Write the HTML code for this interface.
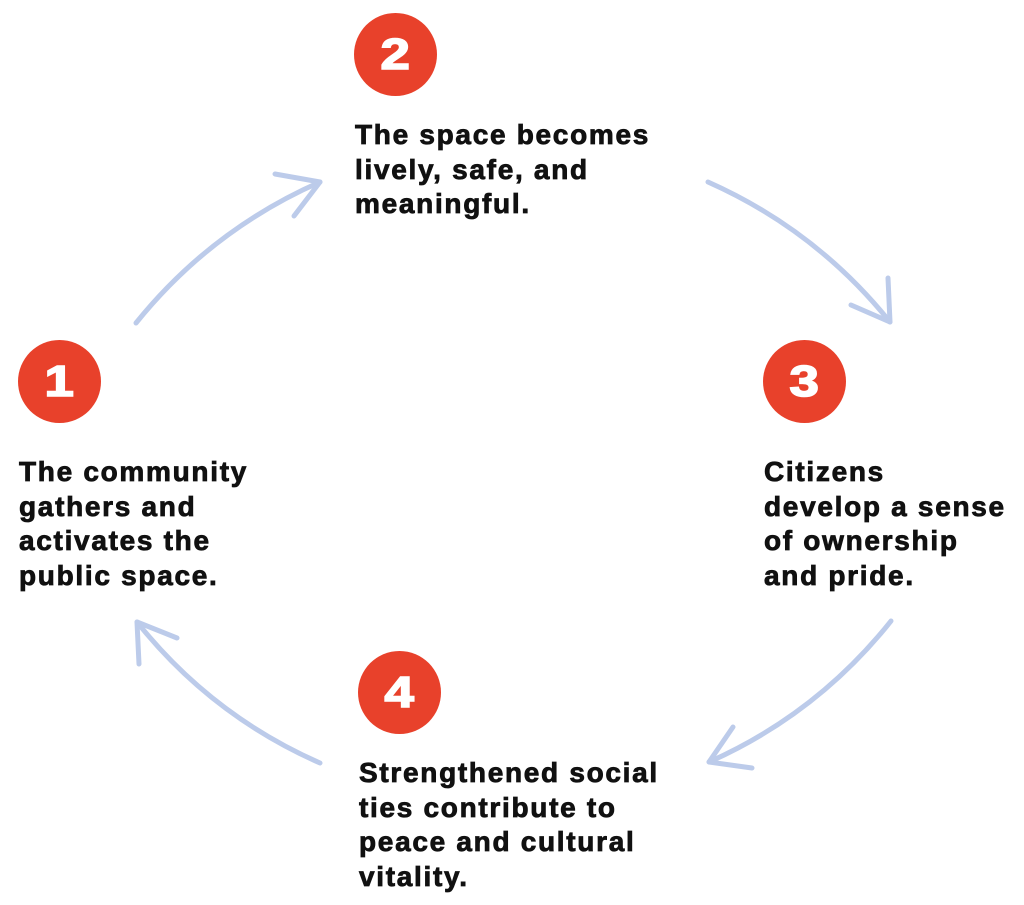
<!DOCTYPE html>
<html>
<head>
<meta charset="utf-8">
<style>
  html,body{margin:0;padding:0;background:#fff;}
  body{width:1024px;height:905px;position:relative;overflow:hidden;font-family:"Liberation Sans",sans-serif;}
  .c{position:absolute;width:83px;height:83px;border-radius:50%;background:#e8412b;color:#fff;
     font-weight:bold;font-size:44px;line-height:83px;text-align:center;-webkit-text-stroke:1.6px #fff;}
  .c span{display:inline-block;transform:scaleX(1.2);}
  .t{position:absolute;font-weight:bold;font-size:28px;line-height:34.5px;letter-spacing:1.7px;color:#111;white-space:nowrap;-webkit-text-stroke:0.8px #111;}
  svg{position:absolute;left:0;top:0;}
</style>
</head>
<body>
<svg width="1024" height="905" viewBox="0 0 1024 905">
  <g fill="none" stroke="#bccbea" stroke-width="5" stroke-linecap="round" stroke-linejoin="round">
    <path d="M136,323 Q211,230 320,182"/>
    <path d="M275,174 L320,182 L294,216"/>
    <path d="M708,182 Q816,230 890,322"/>
    <path d="M888,278 L890,322 L851,305"/>
    <path d="M891,621 Q817,714 709,762"/>
    <path d="M733,727 L709,762 L752,768"/>
    <path d="M320,763 Q211,715 137,622"/>
    <path d="M139,664 L137,622 L177,638"/>
  </g>
</svg>

<div class="c" style="left:18px;top:340px;"><span>1</span></div>
<div class="c" style="left:354px;top:13px;"><span>2</span></div>
<div class="c" style="left:763px;top:340px;"><span>3</span></div>
<div class="c" style="left:358px;top:651px;"><span>4</span></div>

<div class="t" style="left:355px;top:118px;">The space becomes<br>lively, safe, and<br>meaningful.</div>
<div class="t" style="left:19px;top:455px;">The community<br>gathers and<br>activates the<br>public space.</div>
<div class="t" style="left:764px;top:455px;">Citizens<br>develop a sense<br>of ownership<br>and pride.</div>
<div class="t" style="left:359px;top:756px;">Strengthened social<br>ties contribute to<br>peace and cultural<br>vitality.</div>
</body>
</html>
